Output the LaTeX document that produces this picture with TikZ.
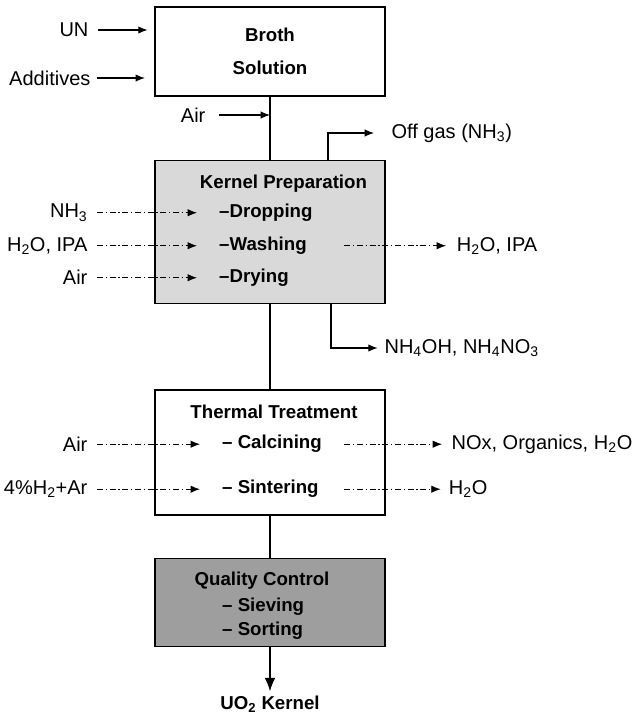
\documentclass[tikz,border=0pt]{standalone}
\usepackage{fontspec}
\setmainfont{Liberation Sans}
\usetikzlibrary{arrows.meta, positioning, calc}
\newcommand{\boxfont}{\fontsize{14}{17}\selectfont\bfseries}
\newcommand{\sidefont}{\fontsize{15}{18}\selectfont}
\tikzset{
    % Process stage box
    stage/.style={
        rectangle,
        draw=black,
        line width=1.1pt,
        fill=white,
        minimum width=172.5pt,
        align=center,
        font=\boxfont
    },
    % Light shaded stage
    shaded/.style={
        stage,
        fill=black!15
    },
    % Dark shaded stage
    qcshade/.style={
        stage,
        fill=black!38
    },
    % Text inside a stage
    boxtext/.style={
        inner sep=0.5pt,
        font=\boxfont
    },
    % Stream going in or out
    stream/.style={
        inner sep=1pt,
        font=\sidefont
    },
    % Solid arrow
    flow/.style={
        -{Latex[length=7pt,width=5.5pt]},
        line width=0.8pt
    },
    % Dash-dot arrow
    flowdd/.style={
        flow,
        line width=0.6pt,
        dash pattern=on 4.5pt off 2pt on 1pt off 2pt
    }
}

\begin{document}
\begin{tikzpicture}[x=0.75pt, y=-0.75pt]
    \useasboundingbox (0,0) rectangle (641,722);
    % Main stages
    \node (broth) [stage, minimum height=66.75pt, font={\fontsize{14}{24.75}\selectfont\bfseries}] at (270,51.5) {Broth\\Solution};
    \node (kernel) [shaded, minimum height=107.25pt, below=47.25pt of broth] {};
    \node (thermal) [stage, minimum height=93.75pt, below=63.75pt of kernel] {};
    \node (qc) [qcshade, minimum height=66pt, below=31.5pt of thermal] {};
    \node (uo2) [boxtext, below=36pt of qc] {UO\textsubscript{2} Kernel};

    % Text inside the stages
    \node (kptitle) [boxtext] at ($(kernel.north)+(13.5,24)$) {Kernel Preparation};
    \node (drop) [boxtext, anchor=west] at ($(kernel.north west)+(64,53)$) {–Dropping};
    \node (wash) [boxtext, anchor=west] at ($(kernel.north west)+(64,86)$) {–Washing};
    \node (dry) [boxtext, anchor=west] at ($(kernel.north west)+(64,118)$) {–Drying};
    \node (tttitle) [boxtext] at ($(thermal.north)+(4,23)$) {Thermal Treatment};
    \node (calcin) [boxtext, anchor=west] at ($(thermal.north west)+(67,55)$) {– Calcining};
    \node (sinter) [boxtext, anchor=west] at ($(thermal.north west)+(67,100)$) {– Sintering};
    \node (qctitle) [boxtext] at ($(qc.north)+(-8,23)$) {Quality Control};
    \node (sieve) [boxtext, anchor=west] at ($(qc.north west)+(67,49)$) {– Sieving};
    \node (sort) [boxtext, anchor=west] at ($(qc.north west)+(67,73)$) {– Sorting};

    \draw [line width=0.8pt] (broth) -- (kernel);
    \draw [line width=0.8pt] (kernel) -- (thermal);
    \draw [line width=0.8pt] (thermal) -- (qc);
    \draw [-{Latex[length=10pt,width=8pt]}, line width=0.8pt, shorten >=3pt] (qc) -- (uo2);

    % Feeds of the broth
    \node (un) [stream, anchor=east] at (90,30) {UN};
    \node (addit) [stream, anchor=east] at (92,78) {Additives};
    \node (airtop) [stream, anchor=east] at (207,115) {Air};
    \draw [flow, shorten <=6pt, shorten >=5pt] (un) -- (un -| broth.west);
    \draw [flow, shorten <=4pt, shorten >=7pt] (addit) -- (addit -| broth.west);
    \draw [flow, shorten <=9pt] (airtop) -- (airtop -| broth.south);

    % Solid outlets of the kernel stage
    \node (offgas) [stream, anchor=west] at (390,133) {Off gas (NH\textsubscript{3})};
    \node (nh4) [stream, anchor=west] at (383,348) {NH\textsubscript{4}OH, NH\textsubscript{4}NO\textsubscript{3}};
    \draw [flow, shorten >=12pt] ([xshift=43.5pt]kernel.north) |- (offgas);
    \draw [flow, shorten >=4pt] ([xshift=45.75pt]kernel.south) |- (nh4);

    % Dash-dot inputs
    \coordinate (lcol) at (89,0);
    \node (nh3) [stream, anchor=east] at (drop.west -| lcol) {NH\textsubscript{3}};
    \node (h2oin) [stream, anchor=east] at (wash.west -| lcol) {H\textsubscript{2}O, IPA};
    \node (airk) [stream, anchor=east] at (dry.west -| lcol) {Air};
    \node (airt) [stream, anchor=east] at (calcin.west -| lcol) {Air};
    \node (h2ar) [stream, anchor=east] at (sinter.west -| lcol) {4\%H\textsubscript{2}+Ar};
    \draw [flowdd, shorten <=6pt, shorten >=16pt] (nh3) -- (drop);
    \draw [flowdd, shorten <=6pt, shorten >=16pt] (h2oin) -- (wash);
    \draw [flowdd, shorten <=6pt, shorten >=16pt] (airk) -- (dry);
    \draw [flowdd, shorten <=6pt, shorten >=16pt] (airt) -- (calcin);
    \draw [flowdd, shorten <=6pt, shorten >=16pt] (h2ar) -- (sinter);

    % Dash-dot outputs
    \coordinate (rcol) at (450,0);
    \node (h2oout) [stream, anchor=west] at ([xshift=4pt]wash.east -| rcol) {H\textsubscript{2}O, IPA};
    \node (noxout) [stream, anchor=west] at (calcin.east -| rcol) {NOx, Organics, H\textsubscript{2}O};
    \node (h2oout2) [stream, anchor=west] at ([xshift=-2pt]sinter.east -| rcol) {H\textsubscript{2}O};
    \draw [flowdd, shorten >=7pt] ([xshift=-31pt]kernel.east |- wash) -- (h2oout);
    \draw [flowdd, shorten >=6pt] ([xshift=-31pt]thermal.east |- calcin) -- (noxout);
    \draw [flowdd, shorten >=5pt] ([xshift=-31pt]thermal.east |- sinter) -- (h2oout2);
\end{tikzpicture}
\end{document}
